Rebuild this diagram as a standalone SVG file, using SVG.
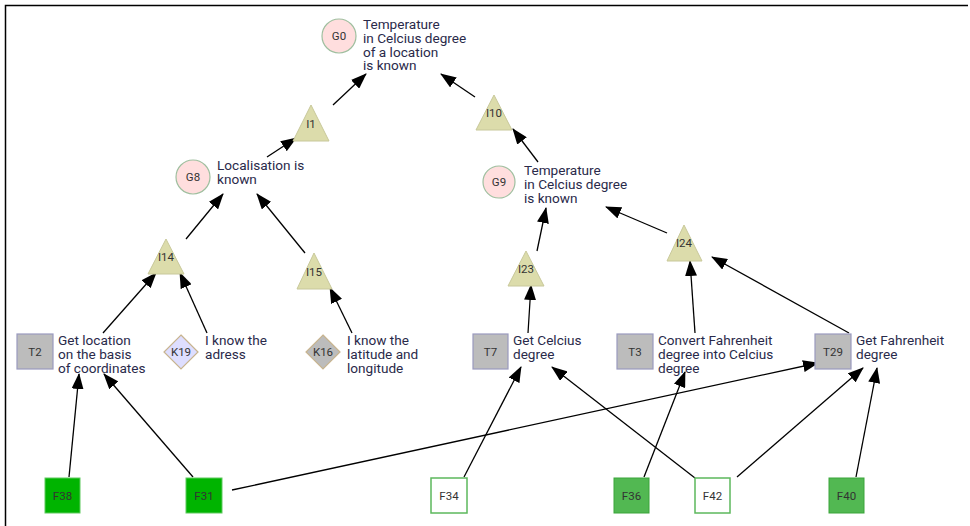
<svg xmlns="http://www.w3.org/2000/svg" width="970" height="526" viewBox="0 0 970 526">
  <style>
    .goal { fill: #ffdede; stroke: #9fbf9f; stroke-width: 1.2; }
    .ind { fill: #dcdcab; stroke: #c8c89a; stroke-width: 1; }
    .task { fill: #bcbcbc; stroke: #9a9abf; stroke-width: 1.2; }
    .know { stroke: #c8b48f; stroke-width: 1.2; }
    .fdark { fill: #00b400; stroke: #5fc95f; stroke-width: 1; }
    .fmid { fill: #52b852; stroke: #3aa53a; stroke-width: 1; }
    .fopen { fill: #ffffff; stroke: #5cb85c; stroke-width: 1.5; }
    .lbl { font-family: Roboto, "Liberation Sans", sans-serif; font-size: 11.5px; fill: #333333; text-anchor: middle; }
    .txt { font-family: Roboto, "Liberation Sans", sans-serif; font-size: 13.6px; fill: #2a2a4a; }
    .edge { stroke: #000000; stroke-width: 1.3; fill: none; marker-end: url(#arrow); }
  </style>
  <defs>
    <marker id="arrow" markerUnits="userSpaceOnUse" markerWidth="16" markerHeight="12" viewBox="0 0 16 12" refX="15" refY="6" orient="auto">
      <path d="M0,0 L16,6 L0,12 z" fill="#000000"/>
    </marker>
  </defs>

  <rect x="0" y="0" width="970" height="526" fill="#ffffff"/>
  <!-- frame -->
  <path d="M5.5,526 L5.5,5.5 L968,5.5" fill="none" stroke="#000000" stroke-width="1.5"/>

  <!-- connectors -->
  <g id="edges">
    <line class="edge" x1="333" y1="105" x2="366" y2="74"/>
    <line class="edge" x1="475" y1="97" x2="441" y2="74"/>
    <line class="edge" x1="186" y1="239" x2="223" y2="194"/>
    <line class="edge" x1="305" y1="253" x2="257" y2="194"/>
    <line class="edge" x1="267" y1="157" x2="296" y2="138"/>
    <line class="edge" x1="538" y1="162" x2="513" y2="129"/>
    <line class="edge" x1="537" y1="251" x2="546" y2="208"/>
    <line class="edge" x1="667" y1="233" x2="606" y2="207"/>
    <line class="edge" x1="103" y1="333" x2="156" y2="273"/>
    <line class="edge" x1="207" y1="333" x2="180" y2="273"/>
    <line class="edge" x1="352" y1="333" x2="330" y2="288"/>
    <line class="edge" x1="528" y1="333" x2="531" y2="285"/>
    <line class="edge" x1="695" y1="333" x2="690" y2="261"/>
    <line class="edge" x1="849" y1="333" x2="712" y2="257"/>
    <line class="edge" x1="69" y1="477" x2="79" y2="374"/>
    <line class="edge" x1="193" y1="477" x2="104" y2="374"/>
    <line class="edge" x1="232" y1="490" x2="818" y2="363"/>
    <line class="edge" x1="464" y1="477" x2="521" y2="367"/>
    <line class="edge" x1="695" y1="478" x2="552" y2="367"/>
    <line class="edge" x1="644" y1="477" x2="685" y2="372"/>
    <line class="edge" x1="737" y1="477" x2="863" y2="368"/>
    <line class="edge" x1="856" y1="477" x2="877" y2="368"/>
  </g>

  <!-- goals -->
  <g id="G0">
    <circle class="goal" cx="339" cy="36" r="17"/>
    <text class="lbl" x="339" y="40">G0</text>
    <text class="txt" x="363" y="29">Temperature<tspan x="363" dy="13.8">in Celcius degree</tspan><tspan x="363" dy="13.8">of a location</tspan><tspan x="363" dy="13.8">is known</tspan></text>
  </g>
  <g id="G8">
    <circle class="goal" cx="193" cy="177" r="17"/>
    <text class="lbl" x="193" y="181">G8</text>
    <text class="txt" x="217" y="170">Localisation is<tspan x="217" dy="13.8">known</tspan></text>
  </g>
  <g id="G9">
    <circle class="goal" cx="499" cy="182" r="16"/>
    <text class="lbl" x="499" y="186">G9</text>
    <text class="txt" x="524" y="175">Temperature<tspan x="524" dy="14">in Celcius degree</tspan><tspan x="524" dy="14">is known</tspan></text>
  </g>

  <!-- indicators -->
  <g id="I1">
    <polygon class="ind" points="311,105 293,141 329,141"/>
    <text class="lbl" x="311" y="128">I1</text>
  </g>
  <g id="I10">
    <polygon class="ind" points="494,95 476,130 512,130"/>
    <text class="lbl" x="494" y="117">I10</text>
  </g>
  <g id="I14">
    <polygon class="ind" points="166,239 148,274 184,274"/>
    <text class="lbl" x="166" y="261">I14</text>
  </g>
  <g id="I15">
    <polygon class="ind" points="314,253 297,289 332,289"/>
    <text class="lbl" x="314" y="276">I15</text>
  </g>
  <g id="I23">
    <polygon class="ind" points="526,251 508,286 544,286"/>
    <text class="lbl" x="526" y="273">I23</text>
  </g>
  <g id="I24">
    <polygon class="ind" points="684,225 667,261 702,261"/>
    <text class="lbl" x="684" y="247">I24</text>
  </g>

  <!-- tasks -->
  <g id="T2">
    <rect class="task" x="17" y="334" width="36" height="35"/>
    <text class="lbl" x="35" y="356">T2</text>
    <text class="txt" x="58" y="345">Get location<tspan x="58" dy="14">on the basis</tspan><tspan x="58" dy="14">of coordinates</tspan></text>
  </g>
  <g id="T7">
    <rect class="task" x="473" y="334" width="35" height="35"/>
    <text class="lbl" x="490.5" y="356">T7</text>
    <text class="txt" x="513" y="345">Get Celcius<tspan x="513" dy="14">degree</tspan></text>
  </g>
  <g id="T3">
    <rect class="task" x="617" y="334" width="36" height="35"/>
    <text class="lbl" x="635" y="356">T3</text>
    <text class="txt" x="658" y="345">Convert Fahrenheit<tspan x="658" dy="14">degree into Celcius</tspan><tspan x="658" dy="14">degree</tspan></text>
  </g>
  <g id="T29">
    <rect class="task" x="815" y="334" width="36" height="35"/>
    <text class="lbl" x="833" y="356">T29</text>
    <text class="txt" x="856" y="345">Get Fahrenheit<tspan x="856" dy="14">degree</tspan></text>
  </g>

  <!-- knowledge -->
  <g id="K19">
    <polygon class="know" fill="#dedeff" points="181,335 198,352 181,369 164,352"/>
    <text class="lbl" x="181" y="356">K19</text>
    <text class="txt" x="205" y="345">I know the<tspan x="205" dy="14">adress</tspan></text>
  </g>
  <g id="K16">
    <polygon class="know" fill="#bcbcbc" points="323,335 340,352 323,369 306,352"/>
    <text class="lbl" x="323" y="356">K16</text>
    <text class="txt" x="347" y="345">I know the<tspan x="347" dy="14">latitude and</tspan><tspan x="347" dy="14">longitude</tspan></text>
  </g>

  <!-- facts -->
  <g id="F38">
    <rect class="fdark" x="45" y="478" width="35" height="35"/>
    <text class="lbl" x="62.5" y="500">F38</text>
  </g>
  <g id="F31">
    <rect class="fdark" x="186" y="478" width="36" height="35"/>
    <text class="lbl" x="204" y="500">F31</text>
  </g>
  <g id="F34">
    <rect class="fopen" x="431" y="478" width="36" height="35"/>
    <text class="lbl" x="449" y="500">F34</text>
  </g>
  <g id="F36">
    <rect class="fmid" x="614" y="478" width="35" height="35"/>
    <text class="lbl" x="631.5" y="500">F36</text>
  </g>
  <g id="F42">
    <rect class="fopen" x="695" y="478" width="35" height="35"/>
    <text class="lbl" x="712.5" y="500">F42</text>
  </g>
  <g id="F40">
    <rect class="fmid" x="829" y="478" width="35" height="35"/>
    <text class="lbl" x="846.5" y="500">F40</text>
  </g>
</svg>
